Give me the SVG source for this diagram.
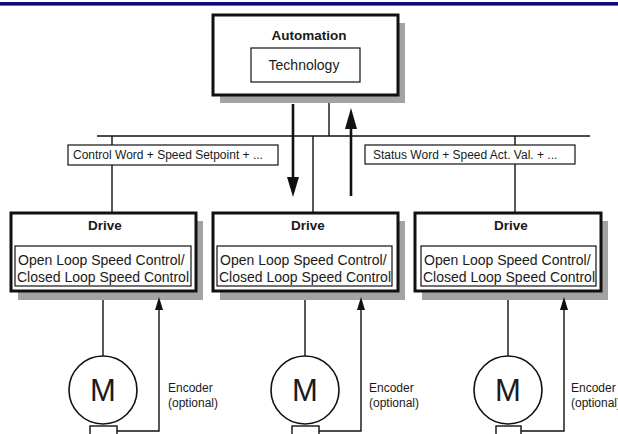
<svg xmlns="http://www.w3.org/2000/svg" width="618" height="434" viewBox="0 0 618 434">
<defs>
<style>
.shadow{fill:#a3a3a3;stroke:none}
.box{fill:#fff;stroke:#111;stroke-width:3}
.inner{fill:#fff;stroke:#111;stroke-width:1.2}
.lbl{fill:#fff;stroke:#111;stroke-width:1.2}
.ln{stroke:#111;stroke-width:1.4;fill:none}
.thick{stroke:#111;stroke-width:2.6;fill:none}
.t{font-family:"Liberation Sans",Arial,sans-serif;fill:#1a1a1a}
.b{font-weight:bold;font-size:13.5px;text-anchor:middle}
.big{font-size:14px}
.sm{font-size:12px}
.m{font-size:31px;text-anchor:middle}
.motor{fill:#fff;stroke:#111;stroke-width:1.6}
</style>
</defs>
<rect width="618" height="434" fill="#fff"/>
<rect x="0" y="2" width="618" height="3" fill="#0a0a82"/>
<rect x="0" y="5" width="618" height="1" fill="#6a6ab0"/>

<g id="connectors">
<line class="ln" x1="97" y1="136" x2="590" y2="136"/>
<line class="ln" x1="329" y1="95" x2="329" y2="136"/>
<line class="ln" x1="112" y1="136" x2="112" y2="213"/>
<line class="ln" x1="313" y1="136" x2="313" y2="213"/>
<line class="ln" x1="515" y1="136" x2="515" y2="213"/>
<line class="thick" x1="293" y1="104" x2="293" y2="180"/>
<polygon points="287,177 299,177 293,197" fill="#111"/>
<line class="thick" x1="351" y1="196" x2="351" y2="125"/>
<polygon points="345,129 357,129 351,108" fill="#111"/>
<line class="ln" x1="103" y1="291" x2="103" y2="356"/>
<line class="ln" x1="305" y1="291" x2="305" y2="356"/>
<line class="ln" x1="508" y1="291" x2="508" y2="356"/>
</g>

<g id="label-control">
<rect class="lbl" x="68" y="145" width="210" height="20"/>
<text class="t sm" x="73" y="159">Control Word + Speed Setpoint + ...</text>
</g>
<g id="label-status">
<rect class="lbl" x="365" y="145" width="210" height="19"/>
<text class="t sm" x="373" y="159">Status Word + Speed Act. Val. + ...</text>
</g>

<g id="automation">
<rect class="shadow" x="220" y="23" width="185" height="80"/>
<rect class="box" x="213" y="15" width="185" height="80"/>
<text class="t b" x="309" y="40">Automation</text>
<rect class="inner" x="251" y="48" width="109" height="34"/>
<text class="t big" x="304" y="70" text-anchor="middle">Technology</text>
</g>

<g id="drive1">
<rect class="shadow" x="18" y="221" width="185" height="79"/>
<rect class="box" x="11" y="213" width="185" height="78"/>
<text class="t b" x="105" y="230">Drive</text>
<rect class="inner" x="15" y="246" width="176" height="40"/>
<text class="t big" x="18" y="265">Open Loop Speed Control/</text>
<text class="t big" x="17" y="282">Closed Loop Speed Control</text>
</g>
<g id="drive2">
<rect class="shadow" x="220" y="221" width="185" height="79"/>
<rect class="box" x="213" y="213" width="185" height="78"/>
<text class="t b" x="308" y="230">Drive</text>
<rect class="inner" x="217" y="246" width="175" height="40"/>
<text class="t big" x="220" y="265">Open Loop Speed Control/</text>
<text class="t big" x="219" y="282">Closed Loop Speed Control</text>
</g>
<g id="drive3">
<rect class="shadow" x="422" y="221" width="186" height="79"/>
<rect class="box" x="415" y="213" width="186" height="78"/>
<text class="t b" x="511" y="230">Drive</text>
<rect class="inner" x="421" y="246" width="175" height="40"/>
<text class="t big" x="424" y="265">Open Loop Speed Control/</text>
<text class="t big" x="423" y="282">Closed Loop Speed Control</text>
</g>

<g id="feedback">
<polyline class="ln" points="117,431 159,431 159,308"/>
<polygon points="155,310 163,310 159,297" fill="#111"/>
<polyline class="ln" points="319,431 361,431 361,308"/>
<polygon points="357,310 365,310 361,297" fill="#111"/>
<polyline class="ln" points="521,431 564,431 564,308"/>
<polygon points="560,310 568,310 564,297" fill="#111"/>
</g>

<g id="motor1">
<circle class="motor" cx="103" cy="390" r="34"/>
<text class="t m" x="103" y="401">M</text>
<rect class="ln" x="90" y="426" width="27" height="12"/>
<text class="t sm" x="168" y="392">Encoder</text>
<text class="t sm" x="168" y="407">(optional)</text>
</g>
<g id="motor2">
<circle class="motor" cx="305" cy="390" r="34"/>
<text class="t m" x="305" y="401">M</text>
<rect class="ln" x="292" y="426" width="27" height="12"/>
<text class="t sm" x="369" y="392">Encoder</text>
<text class="t sm" x="369" y="407">(optional)</text>
</g>
<g id="motor3">
<circle class="motor" cx="508" cy="390" r="34"/>
<text class="t m" x="508" y="401">M</text>
<rect class="ln" x="496" y="426" width="25" height="12"/>
<text class="t sm" x="571" y="392">Encoder</text>
<text class="t sm" x="571" y="407">(optional)</text>
</g>
</svg>
